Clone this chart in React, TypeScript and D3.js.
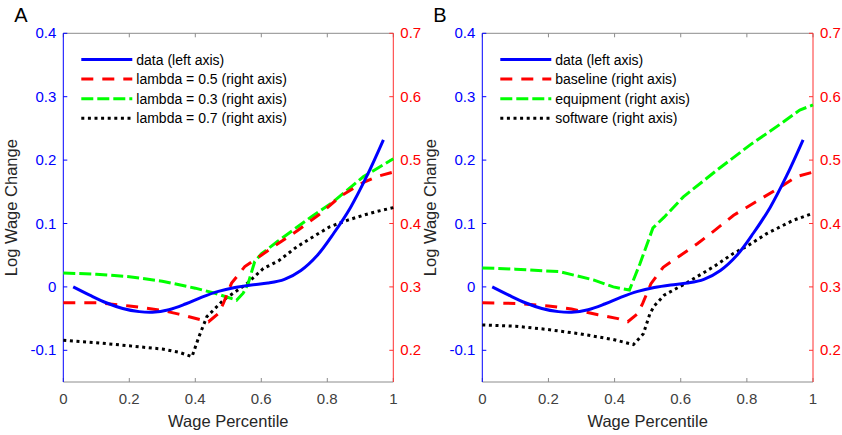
import React from "react";
import * as d3 from "d3";

// tick values
const xTicks = [0, 0.2, 0.4, 0.6, 0.8, 1];
const leftTicks = [-0.1, 0, 0.1, 0.2, 0.3, 0.4];
const rightTicks = [0.2, 0.3, 0.4, 0.5, 0.6, 0.7];

// observed data (left axis), same in both panels
const dataPts: [number, number][] = [
  [0.03, 0], [0.08, -0.013], [0.13, -0.025], [0.18, -0.034], [0.23, -0.039],
  [0.27, -0.04], [0.32, -0.036], [0.37, -0.027], [0.42, -0.016], [0.47, -0.007],
  [0.52, -0.001], [0.57, 0.003], [0.62, 0.006], [0.67, 0.012], [0.72, 0.026],
  [0.77, 0.05], [0.82, 0.085], [0.87, 0.125], [0.92, 0.175], [0.97, 0.232],
];

// panel A model lines (right axis)
const lambda05: [number, number][] = [
  [0, 0.275], [0.1, 0.275], [0.2, 0.27], [0.3, 0.263], [0.35, 0.257], [0.44, 0.245],
  [0.47, 0.258], [0.485, 0.274], [0.51, 0.306], [0.55, 0.332], [0.6, 0.35], [0.65, 0.368],
  [0.71, 0.389], [0.78, 0.416], [0.84, 0.443], [0.91, 0.465], [0.95, 0.474], [1, 0.481],
];
const lambda03: [number, number][] = [
  [0, 0.322], [0.1, 0.32], [0.2, 0.316], [0.3, 0.309], [0.4, 0.298], [0.46, 0.29],
  [0.525, 0.279], [0.545, 0.29], [0.56, 0.305], [0.58, 0.34], [0.6, 0.352], [0.65, 0.372],
  [0.75, 0.41], [0.81, 0.431], [0.91, 0.474], [1, 0.502],
];
const lambda07: [number, number][] = [
  [0, 0.216], [0.1, 0.212], [0.2, 0.207], [0.3, 0.202], [0.35, 0.197], [0.39, 0.19],
  [0.41, 0.22], [0.435, 0.253], [0.485, 0.279], [0.556, 0.305], [0.606, 0.329],
  [0.652, 0.341], [0.707, 0.363], [0.76, 0.38], [0.808, 0.395], [0.86, 0.405],
  [0.909, 0.413], [0.95, 0.419], [1, 0.425],
];

// panel B model lines (right axis)
const baseline: [number, number][] = [
  [0, 0.275], [0.1, 0.274], [0.2, 0.27], [0.27, 0.265], [0.35, 0.256], [0.41, 0.25],
  [0.44, 0.245], [0.47, 0.258], [0.485, 0.274], [0.51, 0.305], [0.547, 0.331], [0.6, 0.35],
  [0.65, 0.368], [0.7, 0.388], [0.76, 0.413], [0.83, 0.435], [0.9, 0.457], [0.95, 0.474],
  [1, 0.481],
];
const equipment: [number, number][] = [
  [0, 0.33], [0.1, 0.328], [0.235, 0.324], [0.336, 0.311], [0.396, 0.3], [0.445, 0.295],
  [0.477, 0.337], [0.516, 0.393], [0.55, 0.41], [0.608, 0.442], [0.709, 0.484],
  [0.81, 0.524], [0.91, 0.56], [0.96, 0.579], [1, 0.587],
];
const software: [number, number][] = [
  [0, 0.24], [0.1, 0.238], [0.195, 0.233], [0.295, 0.226], [0.396, 0.217], [0.457, 0.209],
  [0.487, 0.226], [0.507, 0.258], [0.52, 0.27], [0.55, 0.287], [0.62, 0.307], [0.7, 0.332],
  [0.76, 0.353], [0.8, 0.364], [0.86, 0.384], [0.94, 0.405], [1, 0.416],
];

const FONT = "'Liberation Sans', Arial, sans-serif";
const TOP = 33.3;
const BOTTOM = 382;

type Series = {
  label: string;
  pts: [number, number][];
  color: string;
  dash?: string;
  axis: "left" | "right";
};

const styles = {
  data: { color: "#0000ff", dash: undefined },
  red: { color: "#ff0000", dash: "12,9" },
  green: { color: "#00ff00", dash: "12,4" },
  black: { color: "#000000", dash: "3,3.6" },
};

const Panel = ({ x0, x1, letter, series }: { x0: number; x1: number; letter: string; series: Series[] }) => {
  const x = d3.scaleLinear().domain([0, 1]).range([x0, x1]);
  const yL = d3.scaleLinear().domain([-0.15, 0.4]).range([BOTTOM, TOP]);
  const yR = d3.scaleLinear().domain([0.15, 0.7]).range([BOTTOM, TOP]);
  const tl = 4;
  const fmt = (v: number) => (Math.abs(v) < 1e-9 ? "0" : Number.isInteger(v) ? String(v) : v.toFixed(1));

  return (
    <g>
      {/* frame top / bottom */}
      <line x1={x0} x2={x1} y1={TOP} y2={TOP} stroke="#8c8c8c" />
      <line x1={x0} x2={x1} y1={BOTTOM} y2={BOTTOM} stroke="#8c8c8c" />
      {xTicks.map((t) => (
        <g key={t}>
          <line x1={x(t)} x2={x(t)} y1={BOTTOM} y2={BOTTOM - tl} stroke="#8c8c8c" />
          <line x1={x(t)} x2={x(t)} y1={TOP} y2={TOP + tl} stroke="#8c8c8c" />
          <text x={x(t)} y={404} textAnchor="middle" fontSize={15} fill="#404040" fontFamily={FONT}>
            {fmt(t)}
          </text>
        </g>
      ))}
      {/* left axis */}
      <line x1={x0} x2={x0} y1={TOP} y2={BOTTOM} stroke="#0000ff" />
      {leftTicks.map((t) => (
        <g key={t}>
          <line x1={x0} x2={x0 + tl} y1={yL(t)} y2={yL(t)} stroke="#0000ff" />
          <text x={x0 - 7} y={yL(t) + 5} textAnchor="end" fontSize={15} fill="#0000ff" fontFamily={FONT}>
            {fmt(t)}
          </text>
        </g>
      ))}
      {/* right axis */}
      <line x1={x1} x2={x1} y1={TOP} y2={BOTTOM} stroke="#ff3030" />
      {rightTicks.map((t) => (
        <g key={t}>
          <line x1={x1} x2={x1 - tl} y1={yR(t)} y2={yR(t)} stroke="#ff3030" />
          <text x={x1 + 7} y={yR(t) + 5} textAnchor="start" fontSize={15} fill="#ff0000" fontFamily={FONT}>
            {fmt(t)}
          </text>
        </g>
      ))}
      {/* axis labels */}
      <text
        transform={`translate(${x0 - 46},${(TOP + BOTTOM) / 2}) rotate(-90)`}
        textAnchor="middle"
        fontSize={16.5}
        fill="#262626"
        fontFamily={FONT}
      >
        Log Wage Change
      </text>
      <text x={(x0 + x1) / 2} y={427} textAnchor="middle" fontSize={16.5} fill="#262626" fontFamily={FONT}>
        Wage Percentile
      </text>
      <text x={x0 - 49} y={22} fontSize={20} fill="#000" fontFamily={FONT}>
        {letter}
      </text>
      {/* lines, drawn back to front */}
      {[...series].reverse().map((s) => {
        const y = s.axis === "left" ? yL : yR;
        const gen = d3
          .line<[number, number]>()
          .x((d) => x(d[0]))
          .y((d) => y(d[1]))
          .curve(s.axis === "left" ? d3.curveCatmullRom.alpha(0.5) : d3.curveLinear);
        return (
          <path
            key={s.label}
            d={gen(s.pts) || ""}
            fill="none"
            stroke={s.color}
            strokeWidth={3}
            strokeDasharray={s.dash}
          />
        );
      })}
      {/* legend */}
      {series.map((s, i) => {
        const ly = 59.5 + i * 19.6;
        const lx = x0 + 18;
        return (
          <g key={"lg" + s.label}>
            <line x1={lx} x2={lx + 51} y1={ly} y2={ly} stroke={s.color} strokeWidth={3} strokeDasharray={s.dash} />
            <text x={lx + 55} y={ly + 5} fontSize={14} fill="#000" fontFamily={FONT}>
              {s.label}
            </text>
          </g>
        );
      })}
    </g>
  );
};

export default function App() {
  const seriesA: Series[] = [
    { label: "data (left axis)", pts: dataPts, ...styles.data, axis: "left" },
    { label: "lambda = 0.5 (right axis)", pts: lambda05, ...styles.red, axis: "right" },
    { label: "lambda = 0.3 (right axis)", pts: lambda03, ...styles.green, axis: "right" },
    { label: "lambda = 0.7 (right axis)", pts: lambda07, ...styles.black, axis: "right" },
  ];
  const seriesB: Series[] = [
    { label: "data (left axis)", pts: dataPts, ...styles.data, axis: "left" },
    { label: "baseline (right axis)", pts: baseline, ...styles.red, axis: "right" },
    { label: "equipment (right axis)", pts: equipment, ...styles.green, axis: "right" },
    { label: "software (right axis)", pts: software, ...styles.black, axis: "right" },
  ];
  return (
    <svg
      width={842}
      height={435}
      style={{ position: "absolute", left: 0, top: 0, background: "#fff" }}
    >
      <rect width={842} height={435} fill="#fff" />
      <Panel x0={63.3} x1={393.3} letter="A" series={seriesA} />
      <Panel x0={482.3} x1={813} letter="B" series={seriesB} />
    </svg>
  );
}
